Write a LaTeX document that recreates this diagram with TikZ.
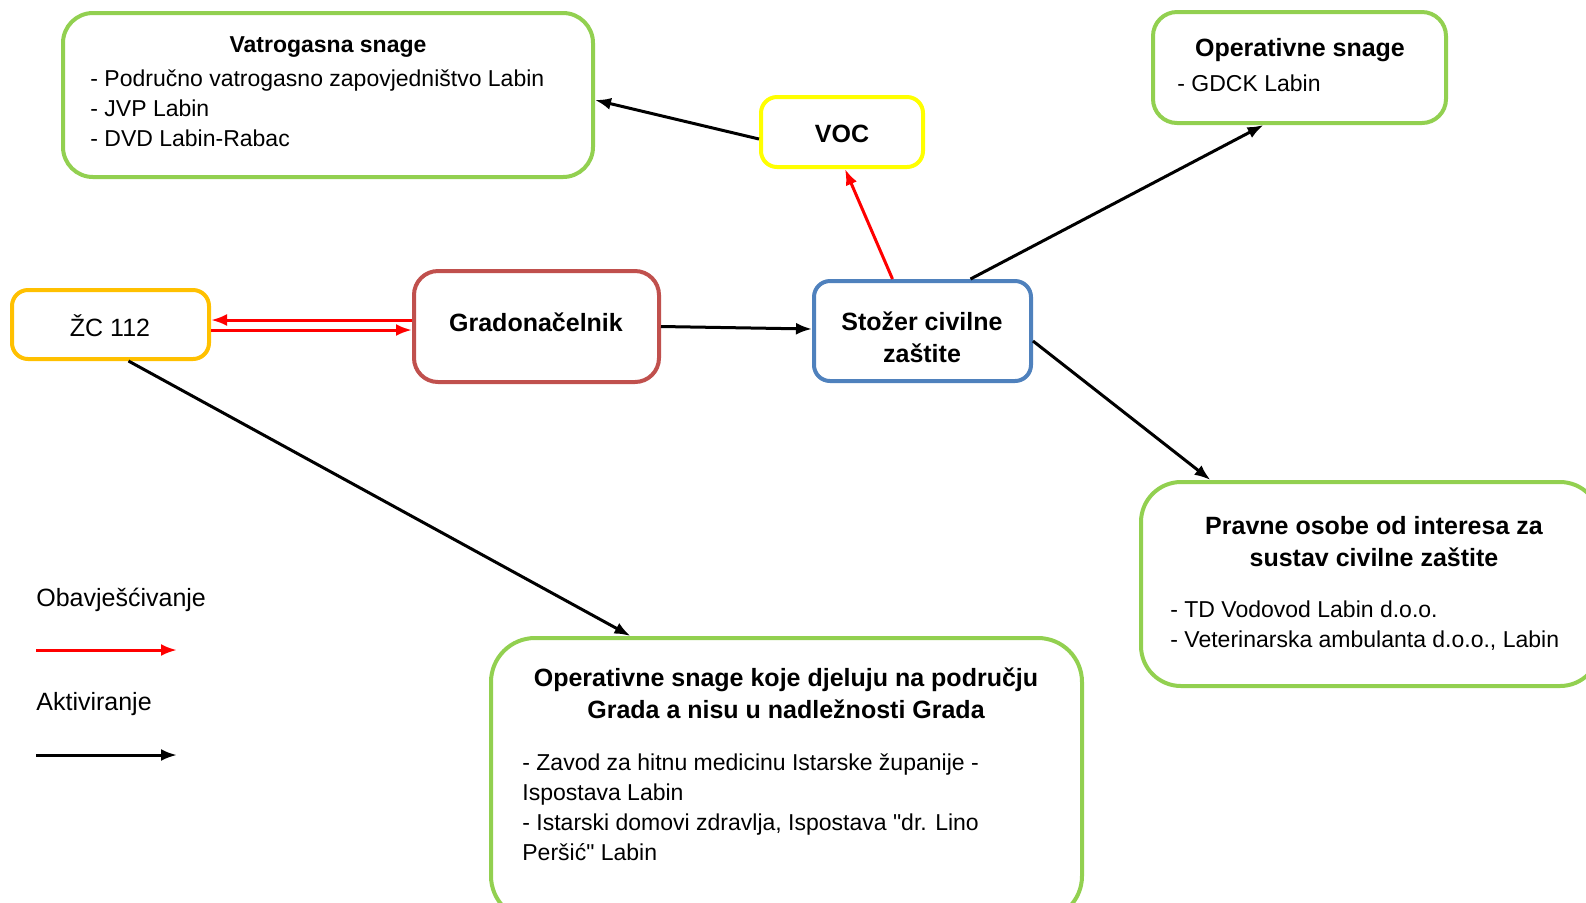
\documentclass[tikz,border=0pt]{standalone}
\usepackage{fontspec}
\setmainfont{Liberation Sans}
\usetikzlibrary{arrows.meta}
\definecolor{zelena}{RGB}{146,208,80}
\definecolor{zuta}{RGB}{255,255,0}
\definecolor{narancasta}{RGB}{255,192,0}
\definecolor{crvena}{RGB}{192,80,77}
\definecolor{plava}{RGB}{79,129,189}

\begin{document}
\begin{tikzpicture}[x=0.5pt,y=-0.5pt]
  \useasboundingbox (0,0) rectangle (1586,902);
  \clip (0,0) rectangle (1586,902);

  \tikzstyle{Kutija}=[draw,line width=2pt,rounded corners=8pt,inner sep=0pt]
  \tikzstyle{Naslov}=[font=\bfseries\fontsize{12.5}{16}\selectfont,align=center]
  \tikzstyle{Tekst}=[font=\fontsize{11.5}{15}\selectfont,align=left,anchor=west,inner sep=0pt]
  \tikzstyle{Legenda}=[font=\fontsize{12.5}{15}\selectfont,anchor=west,inner sep=0pt]
  \tikzstyle{Aktiv}=[-{Latex[length=8pt,width=6pt]},line width=1.5pt,black]
  \tikzstyle{Obavj}=[-{Latex[length=8pt,width=6pt]},line width=1.5pt,red]

  % kutije
  \node[Kutija,zelena,rounded corners=15pt,minimum width=265pt,minimum height=82pt] (vatro) at (328,95) {};
  \node[Kutija,zuta,minimum width=81pt,minimum height=35pt] (voc) at (842,132) {};
  \node[Kutija,zelena,rounded corners=12pt,minimum width=146.5pt,minimum height=55.5pt] (opsnage) at (1299.5,67.5) {};
  \node[Kutija,narancasta,minimum width=98.5pt,minimum height=34.5pt] (zc) at (110.5,324.5) {};
  \node[Kutija,crvena,rounded corners=12pt,minimum width=122.5pt,minimum height=55.5pt] (grad) at (536.5,326.5) {};
  \node[Kutija,plava,minimum width=108.5pt,minimum height=50pt] (stozer) at (922.5,331) {};
  \node[Kutija,zelena,rounded corners=20pt,minimum width=229.5pt,minimum height=102pt] (pravne) at (1370.5,584) {};
  \node[Kutija,zelena,rounded corners=22pt,minimum width=295.5pt,minimum height=141pt] (opsgrad) at (786.5,779) {};

  % tekstovi
  \node[Naslov,font=\bfseries\fontsize{11.5}{15}\selectfont] (vatroN) at (328,47) {Vatrogasna snage};
  \node[Tekst] (vatroT) at (90,108) {- Područno vatrogasno zapovjedništvo Labin\\- JVP Labin\\- DVD Labin-Rabac};
  \node[Naslov] (vocN) at (842,134) {VOC};
  \node[Naslov] (opsnageN) at (1300,50) {Operativne snage};
  \node[Tekst] (opsnageT) at (1177,83) {- GDCK Labin};
  \node[font=\fontsize{12.5}{15}\selectfont] (zcN) at (110,326) {ŽC 112};
  \node[Naslov] (gradN) at (536,322) {Gradonačelnik};
  \node[Naslov] (stozerN) at (922,337) {Stožer civilne\\zaštite};
  \node[Naslov] (pravneN) at (1374,542) {Pravne osobe od interesa za\\sustav civilne zaštite};
  \node[Tekst] (pravneT) at (1170,626) {- TD Vodovod Labin d.o.o.\\- Veterinarska ambulanta d.o.o., Labin};
  \node[Naslov] (opsgradN) at (786,693) {Operativne snage koje djeluju na području\\Grada a nisu u nadležnosti Grada};
  \node[Tekst] (opsgradT) at (522,807.5) {- Zavod za hitnu medicinu Istarske županije -\\Ispostava Labin\\- Istarski domovi zdravlja, Ispostava \textquotedbl dr. Lino\\Peršić\textquotedbl\ Labin};

  % strelice
  \draw[Obavj] (grad.west |- 0,320) -- (zc.east |- 0,320);
  \draw[Obavj] (zc.east |- 0,330) -- (grad.west |- 0,330);
  \draw[Aktiv] (grad.east) -- ([yshift=1pt]stozer.west);
  \draw[Obavj] ([xshift=-15pt]stozer.north) -- ([xshift=1.5pt]voc.south);
  \draw[Aktiv] ([yshift=-3.5pt]voc.west) -- ([yshift=-2.5pt]vatro.east);
  \draw[Aktiv] ([xshift=24pt]stozer.north) -- ([xshift=-18pt]opsnage.south);
  \draw[Aktiv] ([yshift=-5pt]stozer.east) -- ([xshift=-80pt]pravne.north);
  \draw[Aktiv] ([xshift=9pt]zc.south) -- ([xshift=-78pt]opsgrad.north);

  % legenda
  \node[Legenda] (leg1) at (36,600) {Obavješćivanje};
  \coordinate (leg1a) at (36,650);
  \coordinate (leg1b) at (177,650);
  \draw[Obavj] (leg1a) -- (leg1b);
  \node[Legenda] (leg2) at (36,704) {Aktiviranje};
  \coordinate (leg2a) at (36,755);
  \coordinate (leg2b) at (177,755);
  \draw[Aktiv] (leg2a) -- (leg2b);

\end{tikzpicture}
\end{document}
